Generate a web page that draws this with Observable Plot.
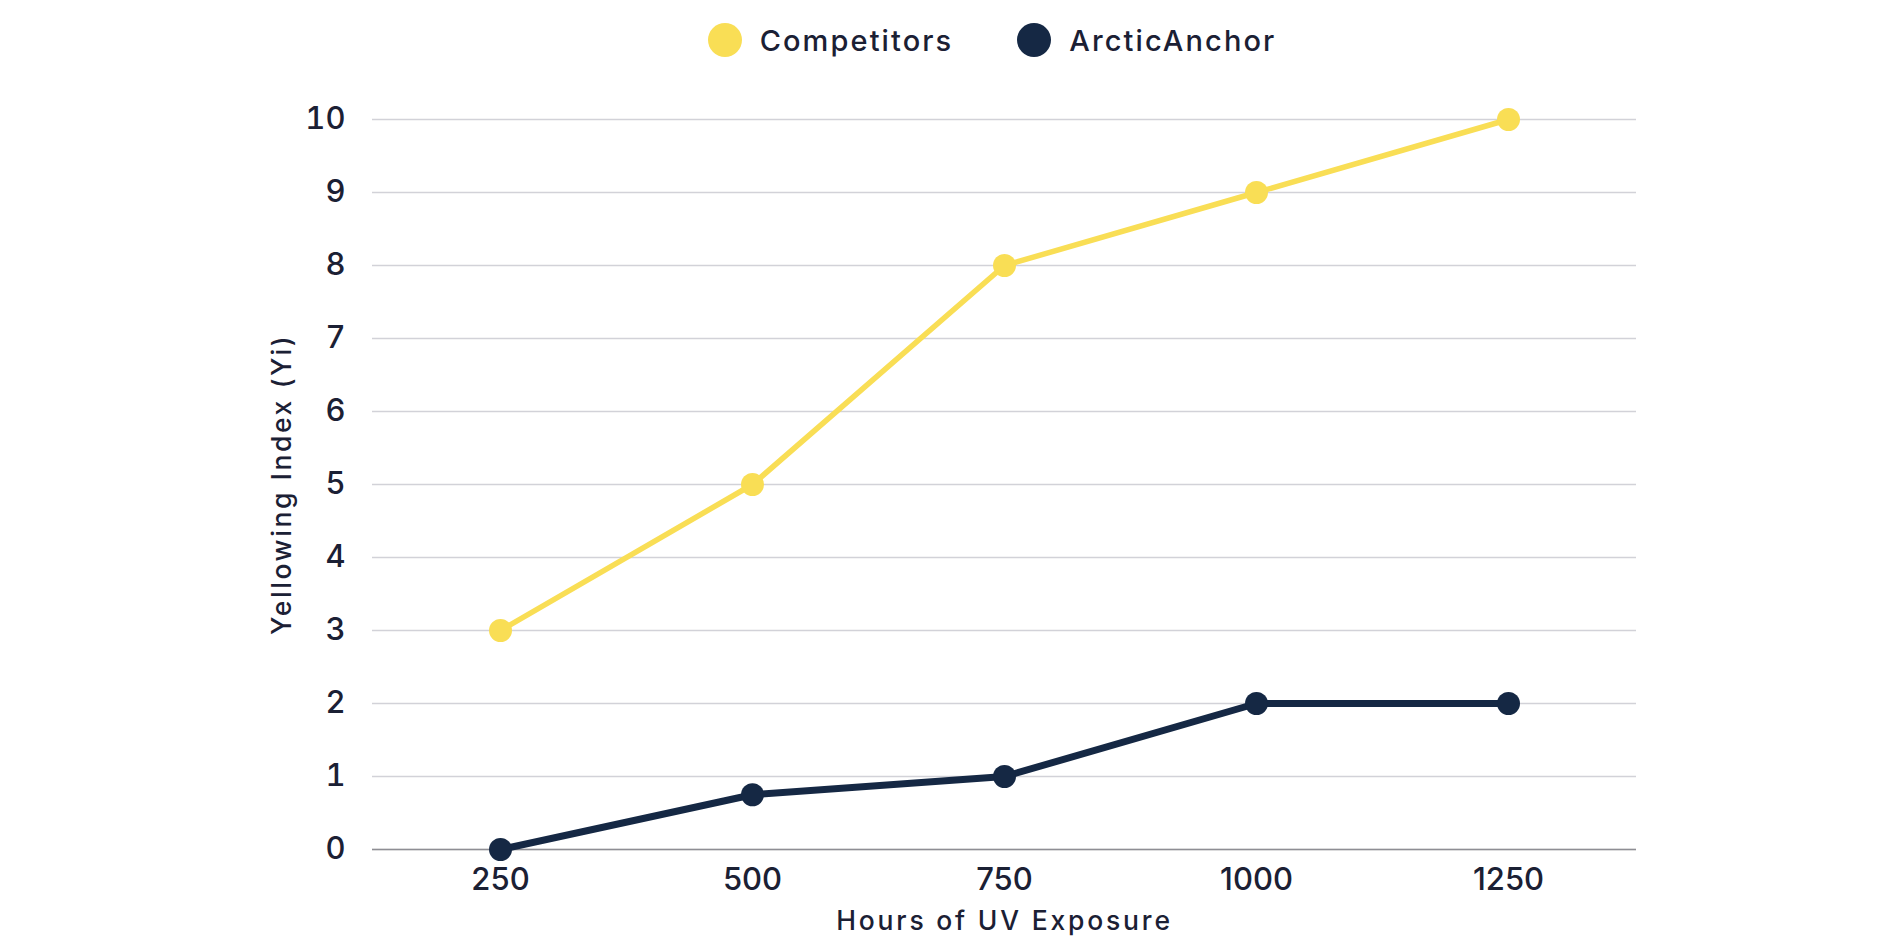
<!DOCTYPE html>
<html>
<head>
<meta charset="utf-8">
<script src="https://cdn.jsdelivr.net/npm/d3@7"></script>
<script src="https://cdn.jsdelivr.net/npm/@observablehq/plot@0.6"></script>
<style>
  html, body { margin: 0; padding: 0; background: #ffffff; }
  body { width: 1904px; height: 944px; overflow: hidden; font-family: Inter, "DejaVu Sans", sans-serif; color: #1b2034; }
  #legend { box-sizing: border-box; height: 80px; display: flex; align-items: center; justify-content: center; padding-left: 372px; padding-right: 292px; }
  .item { display: flex; align-items: center; font-size: 29px; font-weight: 500; letter-spacing: 2.1px; }
  .item + .item { margin-left: 64px; }
  .swatch { width: 34px; height: 34px; border-radius: 50%; margin-right: 18px; display: inline-block; }
  #chart svg { display: block; }
</style>
</head>
<body>
<div id="legend"></div>
<div id="chart"></div>
<script>
// ---- data ----
const hours = [250, 500, 750, 1000, 1250];
const competitors = [3, 5, 8, 9, 10];
const arcticAnchor = [0, 0.75, 1, 2, 2];
const seriesNames = ["Competitors", "ArcticAnchor"];
const yTicks = [0, 1, 2, 3, 4, 5, 6, 7, 8, 9, 10];
const xTitle = "Hours of UV Exposure";
const yTitle = "Yellowing Index (Yi)";

// ---- styles ----
const colors = {Competitors: "#f9de55", ArcticAnchor: "#152844"};
const widths = {Competitors: 5.5, ArcticAnchor: 7};

const seriesValues = {Competitors: competitors, ArcticAnchor: arcticAnchor};
const rows = seriesNames.flatMap(s => hours.map((h, i) => ({series: s, hours: h, value: seriesValues[s][i]})));

// legend
const legend = d3.select("#legend");
seriesNames.forEach(s => {
  const it = legend.append("div").attr("class", "item");
  it.append("span").attr("class", "swatch").style("background", colors[s]);
  it.append("span").text(s);
});

const lineMarks = seriesNames.flatMap(s => [
  Plot.line(rows.filter(d => d.series === s), {x: "hours", y: "value", stroke: colors[s], strokeWidth: widths[s]}),
  Plot.dot(rows.filter(d => d.series === s), {x: "hours", y: "value", fill: colors[s], r: 11.5})
]);

const chart = Plot.plot({
  width: 1904,
  height: 864,
  marginTop: 39,
  marginBottom: 95,
  marginLeft: 372,
  marginRight: 268,
  style: {fontFamily: "Inter, 'DejaVu Sans', sans-serif", fontWeight: 500, color: "#1b2034", background: "#ffffff", overflow: "visible"},
  x: {type: "point", domain: hours, padding: 0.5},
  y: {domain: [0, 10]},
  marks: [
    Plot.gridY(yTicks, {stroke: "#d2d2d8", strokeOpacity: 1, strokeWidth: 1.5}),
    Plot.ruleY([0], {stroke: "#8e8e94", strokeWidth: 1.5}),
    Plot.axisY(yTicks, {tickSize: 0, tickPadding: 27, fontSize: 31, tickFormat: d => String(d), label: yTitle, labelAnchor: "center", labelOffset: 100, labelArrow: "none"}),
    Plot.axisX(hours, {tickSize: 0, tickPadding: 18, fontSize: 31, tickFormat: d => String(d), label: xTitle, labelAnchor: "center", labelOffset: 80, labelArrow: "none"}),
    ...lineMarks
  ]
});
document.getElementById("chart").appendChild(chart);

// axis title font tweaks
d3.select(chart).selectAll('g[aria-label="x-axis label"] text')
  .attr("font-size", 26.5).style("letter-spacing", "2.8px");
d3.select(chart).selectAll('g[aria-label="y-axis label"] text')
  .attr("font-size", 26.5).style("letter-spacing", "2.6px");
</script>
</body>
</html>
